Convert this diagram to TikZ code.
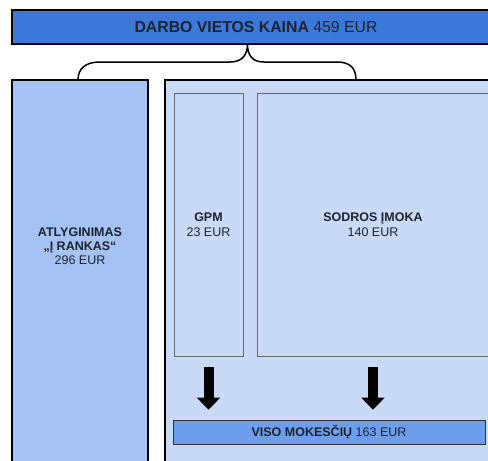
\documentclass[tikz,border=0pt]{standalone}
\usepackage{fontspec}
\setmainfont{Liberation Sans}
\usepackage{xcolor}
\usetikzlibrary{arrows.meta}
\definecolor{kainos}{HTML}{3C78D8}
\definecolor{rankas}{HTML}{A4C2F4}
\definecolor{mokesciai}{HTML}{C9DAF8}
\definecolor{viso}{HTML}{6D9EEB}
\definecolor{tekstas}{HTML}{1E2330}
\def\plotis{488}
\def\aukstis{461}

\begin{document}
\begin{tikzpicture}[x=1pt, y=-1pt,
    dezute/.style={draw=black, line width=1.8pt, inner sep=0pt},
    vidine/.style={draw=black!60, line width=0.8pt, fill=mokesciai, inner sep=0pt,
        align=center, text=tekstas, font=\fontsize{12.5}{14.5}\selectfont},
    uzrasas/.style={align=center, text=tekstas, font=\fontsize{12.5}{14}\selectfont},
    rodykle/.style={line width=10pt, -{Triangle[length=12pt, width=23pt]}},
    skliaustas/.style={line width=1.5pt, black}]
\useasboundingbox (0,0) rectangle (\plotis,\aukstis);
\clip (0,0) rectangle (\plotis,\aukstis);
\fill[white] (0,0) rectangle (\plotis,\aukstis);
%\draw[step=10, line width=0.1pt, black!20] (0,0) grid (\plotis,\aukstis);
%\draw[step=50, line width=0.3pt, black!40] (0,0) grid (\plotis,\aukstis);
    % virsutine juosta
    \node[dezute, fill=kainos, minimum width=488pt, minimum height=34pt,
        text=tekstas, font=\fontsize{15.8}{18}\selectfont] (kaina) at (256,27)
        {\textbf{DARBO VIETOS KAINA} 459 EUR};
    % dvi dalys
    \node[dezute, fill=rankas, minimum width=136pt, minimum height=420pt] (alga) at (80,290) {};
    \node[dezute, fill=mokesciai, minimum width=340pt, minimum height=420pt] (dalis) at (335,290) {};
    \node[uzrasas] (algatekstas) at (80,246)
        {\textbf{ATLYGINIMAS}\\\textbf{„Į RANKAS“}\\296 EUR};
    % mokesciai
    \node[vidine, minimum width=69pt, minimum height=263pt] (gpm) at (208.5,224.5)
        {\textbf{GPM}\\23 EUR};
    \node[vidine, minimum width=232pt, minimum height=263pt] (sodra) at (373,224.5)
        {\textbf{SODROS ĮMOKA}\\140 EUR};
    \node[draw=black!80, line width=0.8pt, fill=viso, inner sep=0pt, text=tekstas,
        font=\fontsize{12.5}{14}\selectfont, minimum width=312pt, minimum height=24pt] (suma) at (329,432)
        {\textbf{VISO MOKESČIŲ} 163 EUR};
    % rodykles
    \draw[rodykle, shorten <=11pt, shorten >=10pt] (gpm.south) -- (gpm.south |- suma.north);
    \draw[rodykle, shorten <=11pt, shorten >=10pt] (sodra.south) -- (sodra.south |- suma.north);
    % skliaustas
    \coordinate (snapas) at (247.5,44);
    \coordinate (kojaK) at (78,80);
    \coordinate (kojaD) at (356,80);
    \draw[skliaustas] (kojaK) .. controls (78,68) and (86,62) .. (100,62) -- (230,62)
        .. controls (242,62) and (247.5,55) .. (snapas)
        .. controls (247.5,55) and (252,62) .. (264,62) -- (337,62)
        .. controls (350,62) and (356,68) .. (kojaD);
\end{tikzpicture}
\end{document}
